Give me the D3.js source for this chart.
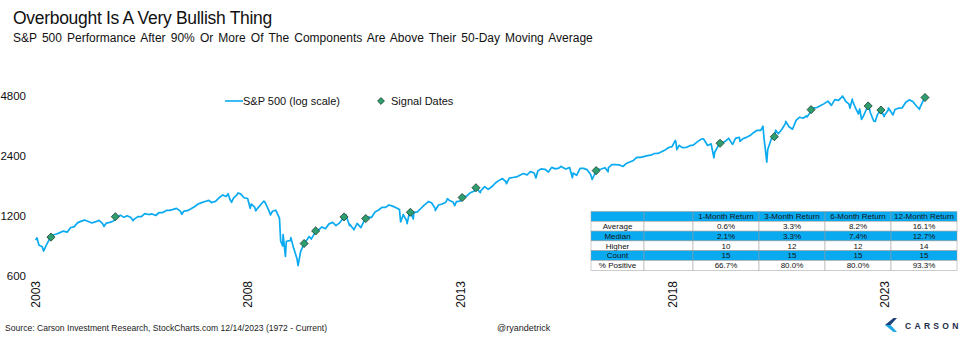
<!DOCTYPE html>
<html><head><meta charset="utf-8">
<script src="https://cdn.jsdelivr.net/npm/d3@7"></script>
<style>
html,body{margin:0;padding:0;background:#fff;}
svg{display:block;font-family:"Liberation Sans",Arial,sans-serif;}
</style></head>
<body><svg id="c" width="975" height="338"></svg>
<script>
// ---- data ----
const spxDates = [
"2003-01-02","2003-01-14","2003-01-31","2003-02-28","2003-03-11","2003-03-31","2003-04-30","2003-05-30","2003-06-30","2003-07-31","2003-08-29","2003-09-30","2003-10-31","2003-11-28","2003-12-31",
"2004-01-30","2004-02-27","2004-03-31","2004-04-30","2004-05-28","2004-06-30","2004-07-30","2004-08-12","2004-08-31","2004-09-30","2004-10-29","2004-11-30","2004-12-31",
"2005-01-31","2005-02-28","2005-03-31","2005-04-20","2005-04-29","2005-05-31","2005-06-30","2005-07-29","2005-08-31","2005-09-30","2005-10-31","2005-11-30","2005-12-30",
"2006-01-31","2006-02-28","2006-03-31","2006-04-28","2006-05-31","2006-06-13","2006-06-30","2006-07-31","2006-08-31","2006-09-29","2006-10-31","2006-11-30","2006-12-29",
"2007-01-31","2007-02-27","2007-02-28","2007-03-30","2007-04-30","2007-05-31","2007-06-29","2007-07-16","2007-07-31","2007-08-15","2007-08-31","2007-09-28","2007-10-09","2007-10-31","2007-11-30","2007-12-31",
"2008-01-22","2008-01-31","2008-02-29","2008-03-10","2008-03-31","2008-04-30","2008-05-19","2008-05-30","2008-06-30","2008-07-15","2008-07-31","2008-08-29","2008-09-30","2008-10-10","2008-10-27","2008-10-31","2008-11-20","2008-11-28","2008-12-31",
"2009-01-06","2009-01-30","2009-02-27","2009-03-09","2009-03-31","2009-04-30","2009-05-29","2009-06-12","2009-06-30","2009-07-31","2009-08-31","2009-09-30","2009-10-30","2009-11-30","2009-12-31",
"2010-01-29","2010-02-26","2010-03-31","2010-04-23","2010-04-30","2010-05-25","2010-05-28","2010-06-30","2010-07-02","2010-07-30","2010-08-31","2010-09-30","2010-10-29","2010-11-30","2010-12-31",
"2011-01-31","2011-02-28","2011-03-31","2011-04-29","2011-05-31","2011-06-30","2011-07-29","2011-08-08","2011-08-31","2011-09-30","2011-10-03","2011-10-27","2011-10-31","2011-11-25","2011-11-30","2011-12-30",
"2012-01-31","2012-02-29","2012-03-30","2012-04-02","2012-04-30","2012-05-31","2012-06-01","2012-06-29","2012-07-31","2012-08-31","2012-09-14","2012-09-28","2012-10-31","2012-11-15","2012-11-30","2012-12-31",
"2013-01-31","2013-02-28","2013-03-28","2013-04-30","2013-05-21","2013-05-31","2013-06-24","2013-06-28","2013-07-31","2013-08-30","2013-09-30","2013-10-31","2013-11-29","2013-12-31",
"2014-01-31","2014-02-03","2014-02-28","2014-03-31","2014-04-30","2014-05-30","2014-06-30","2014-07-31","2014-08-29","2014-09-30","2014-10-15","2014-10-31","2014-11-28","2014-12-31",
"2015-01-30","2015-02-27","2015-03-31","2015-04-30","2015-05-21","2015-05-29","2015-06-30","2015-07-31","2015-08-25","2015-08-31","2015-09-30","2015-10-30","2015-11-30","2015-12-31",
"2016-01-29","2016-02-11","2016-02-29","2016-03-31","2016-04-29","2016-05-31","2016-06-27","2016-06-30","2016-07-29","2016-08-31","2016-09-30","2016-10-31","2016-11-30","2016-12-30",
"2017-01-31","2017-02-28","2017-03-31","2017-04-28","2017-05-31","2017-06-30","2017-07-31","2017-08-31","2017-09-29","2017-10-31","2017-11-30","2017-12-29",
"2018-01-26","2018-01-31","2018-02-08","2018-02-28","2018-03-29","2018-04-30","2018-05-31","2018-06-29","2018-07-31","2018-08-31","2018-09-20","2018-09-28","2018-10-31","2018-11-30","2018-12-24","2018-12-31",
"2019-01-31","2019-02-28","2019-03-29","2019-04-30","2019-05-31","2019-06-03","2019-06-28","2019-07-31","2019-08-05","2019-08-30","2019-09-30","2019-10-31","2019-11-29","2019-12-31",
"2020-01-31","2020-02-19","2020-02-28","2020-03-23","2020-03-31","2020-04-30","2020-05-29","2020-06-08","2020-06-30","2020-07-31","2020-08-31","2020-09-02","2020-09-30","2020-10-30","2020-11-30","2020-12-31",
"2021-01-29","2021-02-26","2021-03-04","2021-03-31","2021-04-30","2021-05-28","2021-06-30","2021-07-30","2021-08-31","2021-09-30","2021-10-29","2021-11-30","2021-12-31",
"2022-01-03","2022-01-31","2022-02-28","2022-03-08","2022-03-29","2022-03-31","2022-04-29","2022-05-20","2022-05-31","2022-06-16","2022-06-30","2022-07-29","2022-08-16","2022-08-31","2022-09-30","2022-10-12","2022-10-31","2022-11-30","2022-12-01","2022-12-28","2022-12-30",
"2023-01-31","2023-02-02","2023-02-28","2023-03-13","2023-03-31","2023-04-28","2023-05-31","2023-06-30","2023-07-31","2023-08-31","2023-09-29","2023-10-27","2023-10-31","2023-11-30","2023-12-14"
];
const spxClose = [
909.0,931.7,855.7,841.2,800.7,848.2,916.9,963.6,974.5,990.3,1008.0,996.0,1050.7,1058.2,1111.9,
1131.1,1144.9,1126.2,1107.3,1120.7,1140.8,1101.7,1063.2,1104.2,1114.6,1130.2,1173.8,1211.9,
1181.3,1203.6,1180.6,1137.5,1156.9,1191.5,1191.3,1234.2,1220.3,1228.8,1207.0,1249.5,1248.3,
1280.1,1280.7,1294.8,1310.6,1270.1,1223.7,1270.2,1276.7,1303.8,1335.9,1377.9,1400.6,1418.3,
1438.2,1399.0,1406.8,1420.9,1482.4,1530.6,1503.4,1553.1,1455.3,1406.7,1474.0,1526.8,1565.2,1549.4,1481.1,1468.4,
1310.5,1378.6,1330.6,1273.4,1322.7,1385.6,1426.6,1400.4,1280.0,1214.9,1267.4,1282.8,1166.4,899.2,848.9,968.8,752.4,896.2,903.3,
934.7,825.9,735.1,676.5,797.9,872.8,919.1,946.2,919.3,987.5,1020.6,1057.1,1036.2,1095.6,1115.1,
1073.9,1104.5,1169.4,1217.3,1186.7,1074.0,1089.4,1030.7,1022.6,1101.6,1049.3,1141.2,1183.3,1180.6,1257.6,
1286.1,1327.2,1325.8,1363.6,1345.2,1320.6,1292.3,1119.5,1218.9,1131.4,1099.2,1284.6,1253.3,1158.7,1247.0,1257.6,
1312.4,1365.7,1408.5,1419.0,1397.9,1310.3,1278.0,1362.2,1379.3,1406.6,1465.8,1440.7,1412.2,1353.3,1416.2,1426.2,
1498.1,1514.7,1569.2,1597.6,1669.2,1630.7,1573.1,1606.3,1685.7,1633.0,1681.6,1756.5,1805.8,1848.4,
1782.6,1741.9,1859.5,1872.3,1884.0,1923.6,1960.2,1930.7,2003.4,1972.3,1862.5,2018.1,2067.6,2058.9,
1995.0,2104.5,2067.9,2085.5,2130.8,2107.4,2063.1,2103.8,1867.6,1972.2,1920.0,2079.4,2080.4,2043.9,
1940.2,1829.1,1932.2,2059.7,2065.3,2097.0,2000.5,2098.9,2173.6,2171.0,2168.3,2126.2,2199.0,2238.8,
2278.9,2363.6,2362.7,2384.2,2411.8,2423.4,2470.3,2471.7,2519.4,2575.3,2647.6,2673.6,
2872.9,2823.8,2581.0,2713.8,2640.9,2648.1,2705.3,2718.4,2816.3,2901.5,2930.8,2914.0,2711.7,2760.2,2351.1,2506.9,
2704.1,2784.5,2834.4,2945.8,2752.1,2744.5,2941.8,2980.4,2844.7,2926.5,2976.7,3037.6,3141.0,3230.8,
3225.5,3386.2,2954.2,2237.4,2584.6,2912.4,3044.3,3232.4,3100.3,3271.1,3500.3,3580.8,3363.0,3270.0,3621.6,3756.1,
3714.2,3811.2,3768.5,3972.9,4181.2,4204.1,4297.5,4395.3,4522.7,4307.5,4605.4,4567.0,4766.2,
4796.6,4515.6,4373.9,4170.7,4631.6,4530.4,4131.9,3901.4,4132.2,3666.8,3785.4,4130.3,4305.2,3955.0,3585.6,3577.0,3872.0,4080.1,4076.6,3783.2,3839.5,
4076.6,4179.8,3970.2,3855.8,4109.3,4169.5,4179.8,4450.4,4589.0,4507.7,4288.1,4117.4,4193.8,4567.8,4719.6
];
const signalDates = ["2003-05-14","2004-11-18","2009-04-30","2009-08-07","2010-04-08","2010-10-12","2011-10-31","2013-01-18","2013-05-17","2016-03-16","2019-02-15","2020-05-27","2021-04-08","2022-08-12","2022-11-30","2023-12-14"];
const signalValues = [940,1190,873,1010,1187,1165,1253,1485,1663,2027,2780,3000,4100,4280,4080,4719];
const yTicks = [600,1200,2400,4800];
const xTickYears = [2003,2008,2013,2018,2023];
const tableHeader = ["","","1-Month Return","3-Month Return","6-Month Return","12-Month Return"];
const rowLabels = ["Average","Median","Higher","Count","% Positive"];
const ret1m = ["0.6%","2.1%","10","15","66.7%"];
const ret3m = ["3.3%","3.3%","12","15","80.0%"];
const ret6m = ["8.2%","7.4%","12","15","80.0%"];
const ret12m = ["16.1%","12.7%","14","15","93.3%"];

// ---- chart ----
const svg = d3.select("#c");
const parse = d3.utcParse("%Y-%m-%d");
const blue = "#0aaaf0";
const series = spxDates.map((d,i)=>({date:parse(d), v:spxClose[i]}));
const signals = signalDates.map((d,i)=>({date:parse(d), v:signalValues[i]}));

const x = d3.scaleUtc().domain([parse("2003-01-01"), parse("2023-12-14")]).range([35.5, 925]);
const y = d3.scaleLog().base(2).domain([600,4800]).range([276,96]);

// Title
svg.append("text").attr("x",13).attr("y",24).attr("font-size",17.5).attr("letter-spacing",-0.3).attr("fill","#111")
  .text("Overbought Is A Very Bullish Thing");
svg.append("text").attr("x",13).attr("y",42).attr("font-size",12).attr("word-spacing",1.8).attr("fill","#111")
  .text("S&P 500 Performance After 90% Or More Of The Components Are Above Their 50-Day Moving Average");

// Y axis labels
const yAxis = d3.axisLeft(y).tickValues(yTicks).tickFormat(d3.format("d")).tickSize(0).tickPadding(0);
const gy = svg.append("g").attr("transform","translate(26,0)").call(yAxis);
gy.select(".domain").remove();
gy.selectAll("text").attr("font-size",11.5).attr("fill","#111").attr("font-family","Liberation Sans, Arial, sans-serif");

// X axis labels (rotated)
const xAxis = d3.axisBottom(x).tickValues(xTickYears.map(yr=>new Date(Date.UTC(yr,0,1))))
  .tickFormat(d3.utcFormat("%Y")).tickSize(0);
const gx = svg.append("g").attr("transform","translate(0,281)").call(xAxis);
gx.select(".domain").remove();
gx.selectAll("text").attr("font-size",12).attr("fill","#111").attr("font-family","Liberation Sans, Arial, sans-serif")
  .attr("transform","rotate(-90)").attr("text-anchor","end").attr("x",0).attr("y",0).attr("dy","0.35em");

// Line
const line = d3.line().x(d=>x(d.date)).y(d=>y(d.v)).curve(d3.curveLinear);
svg.append("path").datum(series).attr("d",line).attr("fill","none")
  .attr("stroke",blue).attr("stroke-width",1.7).attr("stroke-linejoin","round");

// Signal markers
const diamond = d3.symbol().type(d3.symbolDiamond2).size(42);
svg.append("g").selectAll("path").data(signals).join("path")
  .attr("d",diamond).attr("transform",d=>`translate(${x(d.date)},${y(d.v)})`)
  .attr("fill","#2f9e6e").attr("stroke","#1d3b2c").attr("stroke-width",0.8);

// Legend
svg.append("line").attr("x1",225).attr("x2",243).attr("y1",101).attr("y2",101).attr("stroke",blue).attr("stroke-width",1.6);
svg.append("text").attr("x",243).attr("y",105).attr("font-size",11).attr("fill","#111").text("S&P 500 (log scale)");
svg.append("path").attr("d",d3.symbol().type(d3.symbolDiamond2).size(30)).attr("transform","translate(381,101)")
  .attr("fill","#2f9e6e").attr("stroke","#1d3b2c").attr("stroke-width",0.8);
svg.append("text").attr("x",391).attr("y",105).attr("font-size",11).attr("fill","#111").text("Signal Dates");

// Table
const colX = [591,644,693,759,825,891,957];
const rowY0 = 211.5, rowH = 9.8;
const tbl = svg.append("g").attr("font-size",8).attr("fill","#111");
const rows = [tableHeader].concat(rowLabels.map((l,i)=>[l,"",ret1m[i],ret3m[i],ret6m[i],ret12m[i]]));
rows.forEach((r,ri)=>{
  const fill = (ri===0||ri===2||ri===4) ? "#0aaaf0" : "#ffffff";
  r.forEach((c,ci)=>{
    tbl.append("rect").attr("x",colX[ci]).attr("y",rowY0+ri*rowH).attr("width",colX[ci+1]-colX[ci]).attr("height",rowH)
      .attr("fill",fill).attr("stroke","#9a9a9a").attr("stroke-width",0.5);
    if(c!=="") tbl.append("text").attr("x",(colX[ci]+colX[ci+1])/2).attr("y",rowY0+ri*rowH+rowH/2).attr("dy","0.35em")
      .attr("text-anchor","middle").attr("fill","#111").text(c);
  });
});

// Footer
const narrow = "'Liberation Sans Narrow','Arial Narrow','Liberation Sans',sans-serif";
svg.append("text").attr("x",5).attr("y",331).attr("font-size",9).attr("font-family",narrow).attr("fill","#222")
  .attr("textLength",322).attr("lengthAdjust","spacingAndGlyphs")
  .text("Source: Carson Investment Research, StockCharts.com 12/14/2023 (1972 - Current)");
svg.append("text").attr("x",497).attr("y",331).attr("font-size",9).attr("font-family",narrow).attr("fill","#222")
  .text("@ryandetrick");

// Carson logo
const logo = svg.append("g");
logo.append("path").attr("d","M885,325 L893.5,318 L897,318 L890.5,325 Z").attr("fill","#1f3f77");
logo.append("path").attr("d","M885,325 L890.5,325 L897,332 L893.5,332 Z").attr("fill","#1ea7e4");
logo.append("text").attr("x",905).attr("y",328.5).attr("font-size",8.5).attr("font-weight","bold")
  .attr("letter-spacing",3.3).attr("fill","#1e2b48").text("CARSON");
</script></body></html>
